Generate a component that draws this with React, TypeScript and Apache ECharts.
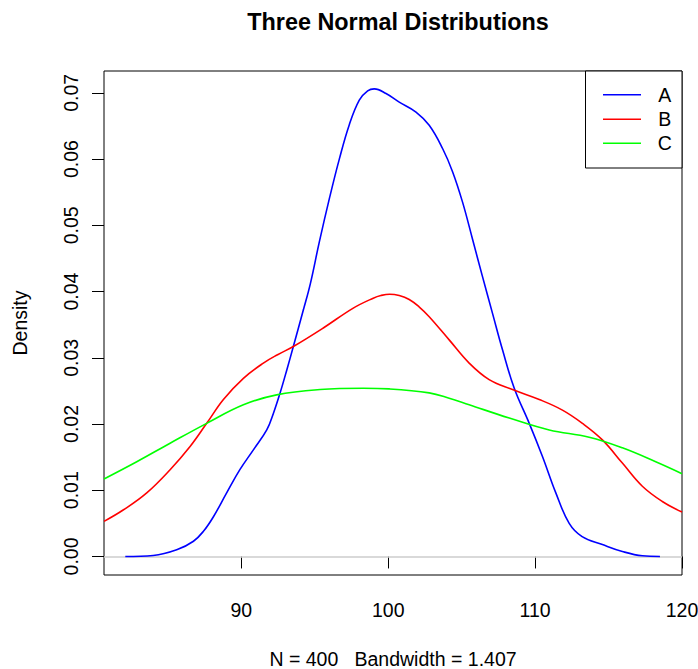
import React, { useEffect, useRef } from "react";
import * as echarts from "echarts";

const seriesNames = ["A", "B", "C"];
const seriesColors = ["#0000FF", "#FF0000", "#00FF00"];

const densityA: [number, number][] = [
  [82.1, 0], [84.0, 0.00015], [85.6, 0.001], [86.74, 0.0023], [87.42, 0.0038],
  [88.1, 0.006], [89.0, 0.0096], [89.9, 0.0131], [90.82, 0.0161], [91.73, 0.0191],
  [92.18, 0.0216], [92.64, 0.0247], [93.1, 0.0282], [93.54, 0.0317], [94.22, 0.0372],
  [94.7, 0.0412], [95.31, 0.0475], [96.0, 0.0541], [96.67, 0.0600], [97.35, 0.0652],
  [98.03, 0.0689], [98.6, 0.0703], [99.05, 0.0706], [99.85, 0.0699], [100.75, 0.0686],
  [101.89, 0.0671], [102.79, 0.0651], [103.7, 0.0616], [104.38, 0.0581], [105.06, 0.0535],
  [105.74, 0.0479], [106.4, 0.0424], [107.1, 0.0367], [107.78, 0.0312], [108.58, 0.0254],
  [109.6, 0.0201], [110.5, 0.0151], [111.41, 0.0096], [112.32, 0.005], [113.2, 0.003],
  [114.58, 0.0018], [115.94, 0.00075], [117.3, 0.0001], [118.5, 0],
];

const densityB: [number, number][] = [
  [80.65, 0.0053], [81.98, 0.00705], [83.56, 0.0096], [85.15, 0.0131], [86.51, 0.0166],
  [87.64, 0.0201], [88.78, 0.0237], [90.14, 0.0269], [91.5, 0.0292], [92.5, 0.0305],
  [93.54, 0.0317], [95.58, 0.0345], [97.62, 0.0375], [98.98, 0.039], [99.5, 0.0394],
  [100.1, 0.0396], [100.75, 0.0394], [101.43, 0.0388], [102.1, 0.0377], [102.79, 0.0362],
  [104.15, 0.0327], [105.51, 0.0292], [106.87, 0.0267], [108.46, 0.0252], [110.28, 0.0237],
  [111.86, 0.0221], [113.22, 0.0201], [114.58, 0.0176], [115.94, 0.0141], [117.3, 0.0106],
  [118.66, 0.0083], [120, 0.0067],
];

const densityC: [number, number][] = [
  [80.65, 0.0117], [82.88, 0.0143], [85.15, 0.0171], [87.64, 0.0201], [90.14, 0.0229],
  [92.4, 0.0244], [95.36, 0.0252], [98.3, 0.0254], [100.07, 0.0253], [102.79, 0.0247],
  [104.15, 0.0239], [105.51, 0.0229], [108.24, 0.0209], [110.96, 0.0191], [113.68, 0.0180],
  [115.94, 0.0164], [118.21, 0.0143], [120, 0.0125],
];

const xTicks = [90, 100, 110, 120];
const yTicks = [0, 0.01, 0.02, 0.03, 0.04, 0.05, 0.06, 0.07];

const titleText = "Three Normal Distributions";
const xTitle = "N = 400   Bandwidth = 1.407";
const yTitle = "Density";

const FONT = "'Liberation Sans', Arial, Helvetica, sans-serif";

export default function App() {
  const ref = useRef<HTMLDivElement>(null);

  useEffect(() => {
    if (!ref.current) return;
    const chart = echarts.init(ref.current, undefined, { renderer: "svg" });
    const allData = [densityA, densityB, densityC];

    const legendTop = 71;
    const legendRows = [94.7, 119.3, 143.3];

    const option: any = {
      animation: false,
      backgroundColor: "#ffffff",
      textStyle: { fontFamily: FONT },
      title: {
        text: titleText,
        left: 393,
        top: 5,
        textAlign: "center",
        textStyle: { fontFamily: FONT, fontSize: 23.4, fontWeight: "bold", color: "#000" },
      },
      grid: {
        left: 104,
        right: 16,
        top: 71,
        bottom: 94,
        containLabel: false,
        outerBoundsMode: "none",
        show: true,
        borderColor: "#000",
        borderWidth: 1,
        backgroundColor: "transparent",
      },
      xAxis: {
        type: "value",
        min: 80.65,
        max: 120,
        name: xTitle,
        nameLocation: "middle",
        nameGap: 74,
        nameTextStyle: { fontFamily: FONT, fontSize: 19.5, color: "#000" },
        axisLine: { show: false },
        splitLine: { show: false },
        axisTick: {
          show: true,
          length: 12,
          customValues: xTicks,
          lineStyle: { color: "#000", width: 1 },
        },
        axisLabel: {
          customValues: xTicks,
          margin: 25,
          fontFamily: FONT,
          fontSize: 19.5,
          color: "#000",
          formatter: (v: number) => String(v),
        },
      },
      yAxis: {
        type: "value",
        min: -0.0028,
        max: 0.0733,
        name: yTitle,
        nameLocation: "middle",
        nameGap: 74,
        nameRotate: 90,
        nameTextStyle: { fontFamily: FONT, fontSize: 19.5, color: "#000" },
        axisLine: { show: false },
        splitLine: { show: false },
        axisTick: {
          show: true,
          length: 12,
          customValues: yTicks,
          lineStyle: { color: "#000", width: 1 },
        },
        axisLabel: {
          customValues: yTicks,
          rotate: 90,
          margin: 23,
          fontFamily: FONT,
          fontSize: 19.5,
          color: "#000",
          formatter: (v: number) => v.toFixed(2),
        },
      },
      series: allData.map((d, i) => ({
        name: seriesNames[i],
        type: "line",
        data: d,
        showSymbol: false,
        symbol: "none",
        smooth: 0.4,
        clip: true,
        lineStyle: { color: seriesColors[i], width: 1.6 },
        itemStyle: { color: seriesColors[i] },
        z: 3 + i,
        ...(i === 0
          ? {
              markLine: {
                silent: true,
                symbol: "none",
                label: { show: false },
                lineStyle: { color: "#cccccc", width: 1.5, type: "solid" },
                data: [{ yAxis: 0 }],
                z: 1,
              },
            }
          : {}),
      })),
      graphic: [
        {
          type: "group",
          z: 100,
          children: [
            {
              type: "rect",
              shape: { x: 585.5, y: legendTop, width: 96.5, height: 97 },
              style: { fill: "#ffffff", stroke: "#000", lineWidth: 1 },
            },
            ...seriesNames.flatMap((n, i) => [
              {
                type: "line",
                shape: { x1: 603, y1: legendRows[i], x2: 641, y2: legendRows[i] },
                style: { stroke: seriesColors[i], lineWidth: 1.6 },
              },
              {
                type: "text",
                x: 664.7,
                y: legendRows[i],
                style: {
                  text: n,
                  fontFamily: FONT,
                  fontSize: 19.5,
                  fill: "#000",
                  textAlign: "center",
                  textVerticalAlign: "middle",
                },
              },
            ]),
          ],
        },
      ],
    };

    chart.setOption(option);
    return () => chart.dispose();
  }, []);

  return (
    <div
      ref={ref}
      style={{ position: "absolute", left: 0, top: 0, width: 698, height: 669 }}
    />
  );
}
